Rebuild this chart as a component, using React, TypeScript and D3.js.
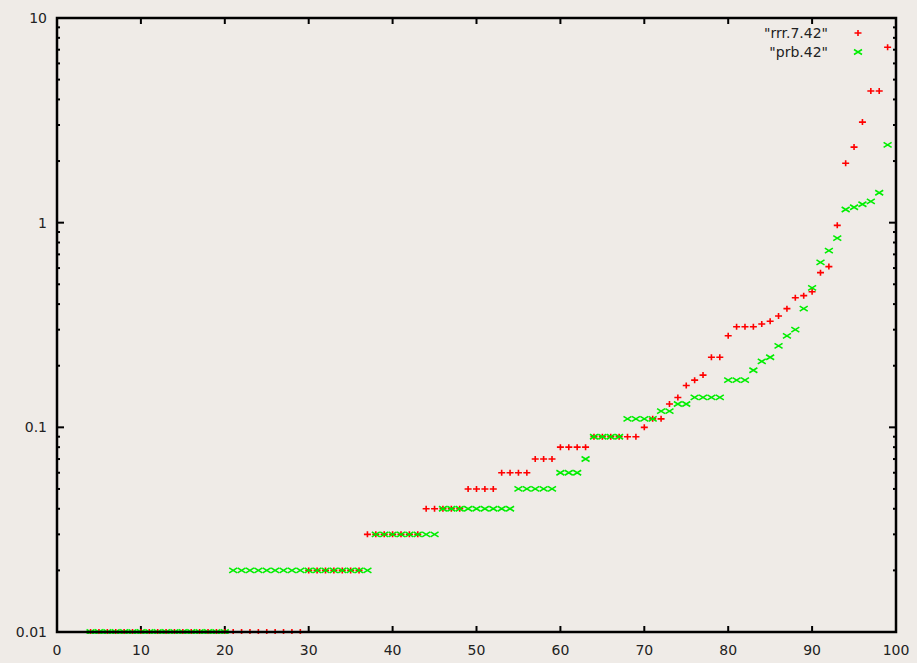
import React from 'react';
import * as d3 from 'd3';

// x positions start at 4, one value per integer x up to 99
const xStart = 4;

const rrrValues = [
  0.01, 0.01, 0.01, 0.01, 0.01, 0.01, 0.01, 0.01, 0.01, 0.01, // 4-13
  0.01, 0.01, 0.01, 0.01, 0.01, 0.01, 0.01, 0.01, 0.01, 0.01, // 14-23
  0.01, 0.01, 0.01, 0.01, 0.01, 0.01, // 24-29
  0.02, 0.02, 0.02, 0.02, 0.02, 0.02, 0.02, // 30-36
  0.03, 0.03, 0.03, 0.03, 0.03, 0.03, 0.03, // 37-43
  0.04, 0.04, 0.04, 0.04, 0.04, // 44-48
  0.05, 0.05, 0.05, 0.05, // 49-52
  0.06, 0.06, 0.06, 0.06, // 53-56
  0.07, 0.07, 0.07, // 57-59
  0.08, 0.08, 0.08, 0.08, // 60-63
  0.09, 0.09, 0.09, 0.09, 0.09, 0.09, // 64-69
  0.1, 0.11, 0.11, 0.13, 0.14, 0.16, 0.17, 0.18, 0.22, 0.22, // 70-79
  0.28, 0.31, 0.31, 0.31, 0.32, 0.33, 0.35, 0.38, 0.43, 0.44, // 80-89
  0.46, 0.57, 0.61, 0.97, 1.95, 2.34, 3.1, 4.4, 4.4, 7.2, // 90-99
];

const prbValues = [
  0.01, 0.01, 0.01, 0.01, 0.01, 0.01, 0.01, 0.01, 0.01, 0.01, // 4-13
  0.01, 0.01, 0.01, 0.01, 0.01, 0.01, 0.01, // 14-20
  0.02, 0.02, 0.02, 0.02, 0.02, 0.02, 0.02, 0.02, 0.02, 0.02, // 21-30
  0.02, 0.02, 0.02, 0.02, 0.02, 0.02, 0.02, // 31-37
  0.03, 0.03, 0.03, 0.03, 0.03, 0.03, 0.03, 0.03, // 38-45
  0.04, 0.04, 0.04, 0.04, 0.04, 0.04, 0.04, 0.04, 0.04, // 46-54
  0.05, 0.05, 0.05, 0.05, 0.05, // 55-59
  0.06, 0.06, 0.06, // 60-62
  0.07, // 63
  0.09, 0.09, 0.09, 0.09, // 64-67
  0.11, 0.11, 0.11, 0.11, // 68-71
  0.12, 0.12, 0.13, 0.13, 0.14, 0.14, 0.14, 0.14, // 72-79
  0.17, 0.17, 0.17, 0.19, 0.21, 0.22, 0.25, 0.28, 0.3, 0.38, // 80-89
  0.48, 0.64, 0.73, 0.84, 1.16, 1.19, 1.23, 1.27, 1.4, 2.4, // 90-99
];

const xTicks = [0, 10, 20, 30, 40, 50, 60, 70, 80, 90, 100];
const yTicks = [0.01, 0.1, 1, 10];
const yTickLabels = ['0.01', '0.1', '1', '10'];
const seriesNames = ['"rrr.7.42"', '"prb.42"'];

const W = 917;
const H = 663;
const margin = { left: 57, right: 21, top: 18, bottom: 31 };
const bg = '#efebe7';
const red = '#ff0000';
const green = '#00ee00';
const font = '"DejaVu Sans", sans-serif';

const Plus = ({ x, y }: { x: number; y: number }) => (
  <path d={`M${x - 3.5},${y}H${x + 3.5}M${x},${y - 3}V${y + 3}`} stroke={red} strokeWidth={1.6} fill="none" />
);

const Cross = ({ x, y }: { x: number; y: number }) => (
  <path d={`M${x - 4},${y - 2.5}L${x + 4},${y + 2.5}M${x - 4},${y + 2.5}L${x + 4},${y - 2.5}`} stroke={green} strokeWidth={1.6} fill="none" />
);

export default function App() {
  const x = d3.scaleLinear().domain([0, 100]).range([margin.left, W - margin.right]);
  const y = d3.scaleLog().domain([0.01, 10]).range([H - margin.bottom, margin.top]);

  const minorY: number[] = [];
  [0.01, 0.1, 1].forEach((d) => {
    for (let k = 2; k <= 9; k++) minorY.push(d * k);
  });

  const x0 = x(0);
  const x1 = x(100);
  const y0 = y(0.01);
  const y1 = y(10);

  return (
    <div style={{ position: 'absolute', left: 0, top: 0 }}>
      <svg width={W} height={H} style={{ display: 'block', background: bg }}>
        <defs>
          <clipPath id="plotClip">
            <rect x={x0} y={y1 - 4} width={x1 - x0 + 4} height={y0 - y1 + 6} />
          </clipPath>
        </defs>
        <rect width={W} height={H} fill={bg} />
        <g stroke="#000" strokeWidth={2} fill="none">
          {xTicks.map((t) => (
            <g key={'xt' + t}>
              <line x1={x(t)} x2={x(t)} y1={y0} y2={y0 - 6} />
              <line x1={x(t)} x2={x(t)} y1={y1} y2={y1 + 6} />
            </g>
          ))}
          {yTicks.map((t) => (
            <g key={'yt' + t}>
              <line x1={x0} x2={x0 + 7} y1={y(t)} y2={y(t)} />
              <line x1={x1} x2={x1 - 7} y1={y(t)} y2={y(t)} />
            </g>
          ))}
          {minorY.map((t) => (
            <g key={'ym' + t}>
              <line x1={x0} x2={x0 + 3} y1={y(t)} y2={y(t)} />
              <line x1={x1} x2={x1 - 3} y1={y(t)} y2={y(t)} />
            </g>
          ))}
        </g>
        <g fontFamily={font} fontSize={14} fill="#222">
          {xTicks.map((t) => (
            <text key={'xl' + t} x={x(t)} y={y0 + 23} textAnchor="middle">{t}</text>
          ))}
          {yTicks.map((t, i) => (
            <text key={'yl' + t} x={x0 - 10} y={y(t) + 5} textAnchor="end">{yTickLabels[i]}</text>
          ))}
        </g>
        <g clipPath="url(#plotClip)">
          {rrrValues.map((v, i) => (
            <Plus key={'r' + i} x={x(xStart + i)} y={y(v)} />
          ))}
          {prbValues.map((v, i) => (
            <Cross key={'p' + i} x={x(xStart + i)} y={y(v)} />
          ))}
        </g>
        <rect x={x0} y={y1} width={x1 - x0} height={y0 - y1} fill="none" stroke="#000" strokeWidth={2.5} />
        <g fontFamily={font} fontSize={14} fill="#222">
          <text x={828} y={38} textAnchor="end">{seriesNames[0]}</text>
          <text x={828} y={57} textAnchor="end">{seriesNames[1]}</text>
        </g>
        <Plus x={858} y={33} />
        <Cross x={858} y={52} />
      </svg>
    </div>
  );
}
